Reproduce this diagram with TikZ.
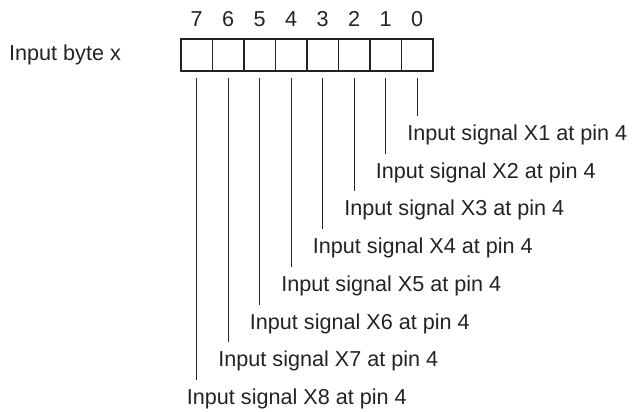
\documentclass[tikz,border=0pt]{standalone}
\usepackage{fontspec}
\setmainfont{Liberation Sans}
\usetikzlibrary{positioning,calc}
\definecolor{ink}{RGB}{35,35,35}
\newcommand{\sigfont}{\fontsize{21.6}{25}\selectfont}
\tikzset{
  bitcell/.style={draw=ink,line width=1.2pt,minimum width=31.5pt,minimum height=32pt,
    inner sep=0pt,outer sep=0pt},
  lbl/.style={font=\sigfont,text=ink,inner sep=0pt},
  lead/.style={draw=ink,line width=0.9pt,shorten <=7pt},
}

\begin{document}
\begin{tikzpicture}[x=1pt,y=-1pt]
  \useasboundingbox (0,0) rectangle (632,412);
  % the byte
  \node[bitcell] (b7) at (196.75,55) {};
  \foreach \i/\j in {6/7,5/6,4/5,3/4,2/3,1/2,0/1}
    \node[bitcell,right=0pt of b\j] (b\i) {};
  \node[lbl,anchor=west] (byte) at (9,55) {Input byte x};
  % bit numbers, leads and signal labels
  \foreach \i [count=\k] in {0,...,7} {
    \node[lbl,above=12pt of b\i] (n\i) {\i};
    \path (b\i.south) ++(0,{45+37.7*\i}) coordinate (e\i);
    \draw[lead] (b\i) -- (e\i);
    \node[lbl,anchor=base west] (s\k) at ($(e\i)+(-10,24.5)$) {Input signal X\k\ at pin 4};
  }
\end{tikzpicture}
\end{document}
